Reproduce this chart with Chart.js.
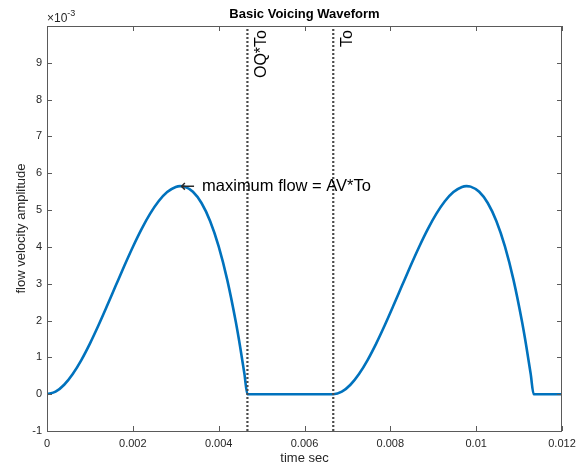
<!DOCTYPE html>
<html>
<head>
<meta charset="utf-8">
<script src="https://cdn.jsdelivr.net/npm/chart.js@4.4.1/dist/chart.umd.min.js"></script>
<style>
  html, body { margin: 0; padding: 0; background: #ffffff; }
  #wrap { width: 576px; height: 470px; }
</style>
</head>
<body>
<div id="wrap"><canvas id="c" width="576" height="470"></canvas></div>
<script>
// Glottal flow samples: time in seconds, amplitude in units of 1e-3
const timeSec = [
  0, 0.0002, 0.0004, 0.0006, 0.0008, 0.0010, 0.0012, 0.0014, 0.0016, 0.0018,
  0.0020, 0.0022, 0.0024, 0.0026, 0.0028, 0.0030, 0.0031, 0.0032, 0.0034, 0.0036,
  0.0038, 0.0040, 0.0042, 0.0044, 0.0045, 0.0046, 0.00467,
  0.00667, 0.00687, 0.00707, 0.00727, 0.00747, 0.00767, 0.00787, 0.00807, 0.00827,
  0.00847, 0.00867, 0.00887, 0.00907, 0.00927, 0.00947, 0.00967, 0.00977, 0.00987, 0.01007,
  0.01027, 0.01047, 0.01067, 0.01087, 0.01107, 0.01117, 0.01127, 0.01134,
  0.012
];
const flowAmp = [
  0, 0.067, 0.256, 0.549, 0.927, 1.374, 1.871, 2.400, 2.943, 3.482,
  3.999, 4.477, 4.896, 5.240, 5.490, 5.628, 5.650, 5.637, 5.497, 5.193,
  4.704, 4.014, 3.104, 1.958, 1.289, 0.555, 0,
  0, 0.067, 0.256, 0.549, 0.927, 1.374, 1.871, 2.400, 2.943,
  3.482, 3.999, 4.477, 4.896, 5.240, 5.490, 5.628, 5.650, 5.637, 5.497,
  5.193, 4.704, 4.014, 3.104, 1.958, 1.289, 0.555, 0,
  0
];

// Open phase end and period markers
const markerTimes = [0.00467, 0.00667];
const markerLabels = ['OQ*To', 'To'];

// Peak annotation
const peakTime = 0.0031;
const peakFlow = 5.650;
const peakArrow = '\u2190';
const peakText = 'maximum flow = AV*To';

// Axis ticks
const xTickValues = [0, 0.002, 0.004, 0.006, 0.008, 0.010, 0.012];
const xTickLabels = ['0', '0.002', '0.004', '0.006', '0.008', '0.01', '0.012'];
const yTickValues = [-1, 0, 1, 2, 3, 4, 5, 6, 7, 8, 9];
const yTickLabels = ['-1', '0', '1', '2', '3', '4', '5', '6', '7', '8', '9'];

const titleText = 'Basic Voicing Waveform';
const xTitle = 'time sec';
const yTitle = 'flow velocity amplitude';

const FONT = "'Liberation Sans', Arial, Helvetica, sans-serif";
const TEXT = '#262626';
const AXIS = '#5a5a5a';

Chart.defaults.font.family = FONT;

const flowPoints = timeSec.map((t, i) => ({ x: t, y: flowAmp[i] }));

const markerSets = markerTimes.map(t => ({
  data: [{ x: t, y: -1 }, { x: t, y: 10 }],
  showLine: true,
  borderColor: '#4a4a4a',
  borderWidth: 2.2,
  borderDash: [2, 2],
  pointRadius: 0,
  fill: false
}));

const decor = {
  id: 'decor',
  afterDraw(chart) {
    const { ctx, chartArea: a, scales } = chart;
    const xs = scales.x, ys = scales.y;
    ctx.save();

    // axes box
    ctx.strokeStyle = AXIS;
    ctx.lineWidth = 1;
    ctx.strokeRect(a.left + 0.5, a.top + 0.5, a.right - a.left - 1, a.bottom - a.top);

    // inward ticks on all four sides
    const tl = 5;
    ctx.beginPath();
    xTickValues.forEach(v => {
      const px = Math.round(xs.getPixelForValue(v)) + 0.5;
      ctx.moveTo(px, a.bottom); ctx.lineTo(px, a.bottom - tl);
      ctx.moveTo(px, a.top); ctx.lineTo(px, a.top + tl);
    });
    yTickValues.forEach(v => {
      const py = Math.round(ys.getPixelForValue(v)) + 0.5;
      ctx.moveTo(a.left, py); ctx.lineTo(a.left + tl, py);
      ctx.moveTo(a.right, py); ctx.lineTo(a.right - tl, py);
    });
    ctx.stroke();

    // title
    ctx.fillStyle = '#000000';
    ctx.font = 'bold 13px ' + FONT;
    ctx.textAlign = 'center';
    ctx.textBaseline = 'middle';
    ctx.fillText(titleText, (a.left + a.right) / 2, 14);

    // exponent label
    ctx.fillStyle = TEXT;
    ctx.font = '12px ' + FONT;
    ctx.textAlign = 'left';
    ctx.textBaseline = 'alphabetic';
    ctx.fillText('\u00d710', a.left, 22);
    const w10 = ctx.measureText('\u00d710').width;
    ctx.font = '9px ' + FONT;
    ctx.fillText('-3', a.left + w10, 16);

    // axis titles
    ctx.font = '13px ' + FONT;
    ctx.textAlign = 'center';
    ctx.textBaseline = 'middle';
    ctx.fillText(xTitle, (a.left + a.right) / 2, 458);
    ctx.save();
    ctx.translate(21, (a.top + a.bottom) / 2);
    ctx.rotate(-Math.PI / 2);
    ctx.fillText(yTitle, 0, 0);
    ctx.restore();

    // marker labels, rotated, hanging from the top
    ctx.fillStyle = '#000000';
    ctx.font = '16px ' + FONT;
    markerTimes.forEach((t, i) => {
      const px = xs.getPixelForValue(t);
      ctx.save();
      ctx.translate(px + 6, a.top + 4);
      ctx.rotate(-Math.PI / 2);
      ctx.textAlign = 'right';
      ctx.textBaseline = 'top';
      ctx.fillText(markerLabels[i], 0, 0);
      ctx.restore();
    });

    // peak annotation: arrow pointing back at the maximum, then the text
    const ax = xs.getPixelForValue(peakTime);
    const ay = ys.getPixelForValue(peakFlow);
    ctx.textAlign = 'left';
    ctx.textBaseline = 'middle';
    ctx.font = '18px "DejaVu Sans", sans-serif';
    ctx.fillStyle = '#2a2a2a';
    ctx.fillText(peakArrow, ax, ay + 1);
    ctx.font = '16.5px ' + FONT;
    ctx.fillStyle = '#000000';
    ctx.fillText(peakText, ax + 22, ay);

    ctx.restore();
  }
};

new Chart(document.getElementById('c'), {
  type: 'scatter',
  data: {
    datasets: [
      ...markerSets,
      {
        data: flowPoints,
        showLine: true,
        borderColor: '#0072BD',
        borderWidth: 2.6,
        pointRadius: 0,
        cubicInterpolationMode: 'monotone',
        fill: false
      }
    ]
  },
  options: {
    responsive: false,
    animation: false,
    events: [],
    layout: { padding: { left: 0, right: 14, top: 26, bottom: 0 } },
    plugins: {
      legend: { display: false },
      tooltip: { enabled: false },
      title: { display: false }
    },
    scales: {
      x: {
        type: 'linear',
        min: 0,
        max: 0.012,
        afterBuildTicks: s => { s.ticks = xTickValues.map(v => ({ value: v })); },
        afterFit: s => { s.height = 39; s.paddingLeft = 0; s.paddingRight = 0; },
        ticks: {
          callback: (v, i) => xTickLabels[i],
          font: { size: 11 },
          color: TEXT,
          padding: 6,
          maxRotation: 0,
          autoSkip: false
        },
        grid: { display: false, drawTicks: false },
        border: { display: false }
      },
      y: {
        type: 'linear',
        min: -1,
        max: 10,
        afterBuildTicks: s => { s.ticks = yTickValues.map(v => ({ value: v })); },
        afterFit: s => { s.width = 47; s.paddingTop = 0; s.paddingBottom = 0; },
        ticks: {
          callback: (v, i) => yTickLabels[i],
          font: { size: 11 },
          color: TEXT,
          padding: 5,
          autoSkip: false
        },
        grid: { display: false, drawTicks: false },
        border: { display: false }
      }
    }
  },
  plugins: [decor]
});
</script>
</body>
</html>
